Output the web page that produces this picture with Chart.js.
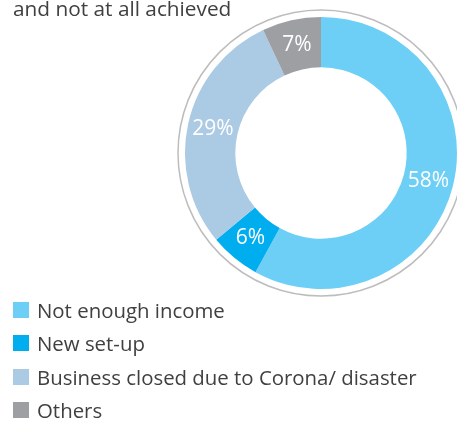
<!DOCTYPE html>
<html><head><meta charset="utf-8">
<script src="https://cdn.jsdelivr.net/npm/chart.js@4.4.1/dist/chart.umd.min.js"></script>
<style>
html,body{margin:0;padding:0;background:#fff;width:457px;height:421px;overflow:hidden;font-family:"Open Sans",sans-serif;color:#404040}
#wrap{position:absolute;left:0;top:0;width:457px;height:421px}
#title{position:absolute;left:13px;top:-6px;font-size:20.8px;line-height:28px;white-space:nowrap}
#legend{position:absolute;left:13px;top:293px}
.item{display:flex;align-items:center;height:33.5px;font-size:20.4px;white-space:nowrap}
.sw{width:16px;height:16px;margin-right:8px;flex:none}
</style></head><body>
<div id="wrap"><canvas id="c" width="457" height="421"></canvas></div>
<div id="title">and not at all achieved</div>
<div id="legend"></div>
<script>
const categories = ["Not enough income", "New set-up", "Business closed due to Corona/ disaster", "Others"];
const values = [58, 6, 29, 7];
const valueLabels = ["58%", "6%", "29%", "7%"];
const colors = ["#6DCFF6", "#00AEEF", "#ABCAE3", "#9D9FA2"];

const ringPlugin = {
  id: 'ringPlugin',
  afterDatasetsDraw(chart) {
    const ctx = chart.ctx;
    const meta = chart.getDatasetMeta(0);
    const a0 = meta.data[0];
    ctx.save();
    ctx.beginPath();
    ctx.arc(a0.x, a0.y, a0.outerRadius + 7, 0, Math.PI * 2);
    ctx.strokeStyle = '#bdbdbd';
    ctx.lineWidth = 1.5;
    ctx.stroke();
    ctx.fillStyle = '#ffffff';
    ctx.font = '21px "Open Sans"';
    ctx.textAlign = 'center';
    ctx.textBaseline = 'middle';
    meta.data.forEach((arc, i) => {
      const p = arc.tooltipPosition(true);
      ctx.fillText(valueLabels[i], p.x, p.y);
    });
    ctx.restore();
  }
};

new Chart(document.getElementById('c'), {
  type: 'doughnut',
  data: {
    labels: categories,
    datasets: [{ data: values, backgroundColor: colors, borderWidth: 0, hoverOffset: 0 }]
  },
  options: {
    responsive: false,
    animation: false,
    cutout: '63%',
    layout: { padding: { left: 185, right: 0, top: 17, bottom: 132 } },
    plugins: { legend: { display: false }, tooltip: { enabled: false } }
  },
  plugins: [ringPlugin]
});

const leg = document.getElementById('legend');
categories.forEach((c, i) => {
  const d = document.createElement('div');
  d.className = 'item';
  d.innerHTML = '<span class="sw" style="background:' + colors[i] + '"></span><span>' + c + '</span>';
  leg.appendChild(d);
});
</script>
</body></html>
